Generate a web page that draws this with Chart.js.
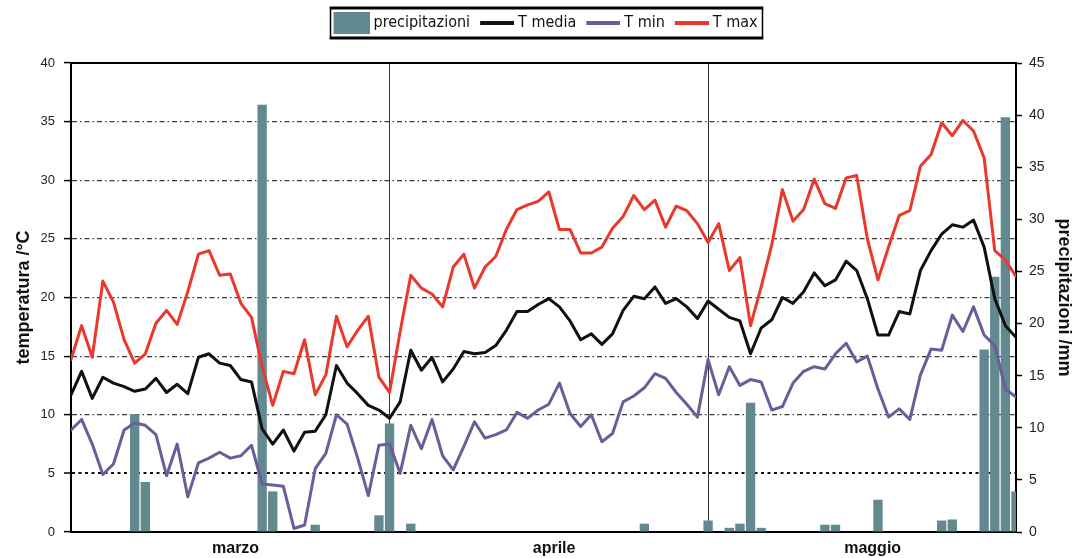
<!DOCTYPE html>
<html>
<head>
<meta charset="utf-8">
<script src="https://cdn.jsdelivr.net/npm/chart.js@4.4.1/dist/chart.umd.min.js"></script>
<style>
  html, body { margin: 0; padding: 0; background: #fff; }
  #wrap { width: 1075px; height: 558px; }
</style>
</head>
<body>
<div id="wrap"><canvas id="c" width="1075" height="558"></canvas></div>
<script>
// Month names shown under the x axis and the day index where each month begins
const months = ['marzo', 'aprile', 'maggio'];
const monthStart = [0, 30, 60, 90];

// Daily maximum temperature (°C)
const tMax = [
  14.7, 17.6, 14.9, 21.4, 19.6, 16.4, 14.4, 15.2, 17.8, 18.9,
  17.7, 20.5, 23.7, 24.0, 21.9, 22.0, 19.5, 18.3, 14.1, 10.8,
  13.7, 13.5, 16.4, 11.7, 13.4, 18.4, 15.8, 17.2, 18.4, 13.2,
  11.9, 17.1, 21.9, 20.8, 20.3, 19.2, 22.6, 23.7, 20.8, 22.6,
  23.5, 25.8, 27.5, 27.9, 28.2, 29.0, 25.8, 25.8, 23.8, 23.8,
  24.3, 25.9, 26.9, 28.7, 27.5, 28.3, 26.0, 27.8, 27.4, 26.3,
  24.7, 26.3, 22.3, 23.4, 17.6, 20.9, 24.5, 29.2, 26.5, 27.5,
  30.1, 28.0, 27.6, 30.2, 30.4, 25.0, 21.5, 24.3, 27.0, 27.4,
  31.2, 32.2, 34.9, 33.8, 35.1, 34.2, 31.9, 24.0, 23.2, 21.8
];

// Daily mean temperature (°C)
const tMedia = [
  11.7, 13.7, 11.4, 13.2, 12.7, 12.4, 12.0, 12.2, 13.1, 11.9,
  12.6, 11.8, 14.9, 15.2, 14.4, 14.2, 13.0, 12.8, 8.8, 7.5,
  8.7, 6.9, 8.5, 8.6, 10.0, 14.2, 12.7, 11.8, 10.8, 10.4,
  9.7, 11.1, 15.5, 13.8, 14.9, 12.8, 13.9, 15.4, 15.2, 15.3,
  15.9, 17.2, 18.8, 18.8, 19.4, 19.9, 19.2, 18.0, 16.4, 16.9,
  16.0, 16.9, 18.9, 20.1, 19.9, 20.9, 19.5, 19.9, 19.2, 18.2,
  19.7, 19.0, 18.3, 18.0, 15.2, 17.4, 18.1, 20.0, 19.5, 20.5,
  22.1, 21.0, 21.5, 23.1, 22.3, 19.9, 16.8, 16.8, 18.8, 18.6,
  22.3, 24.0, 25.4, 26.2, 26.0, 26.6, 24.3, 19.9, 17.6, 16.6
];

// Daily minimum temperature (°C)
const tMin = [
  8.7, 9.6, 7.5, 4.9, 5.8, 8.7, 9.3, 9.1, 8.3, 4.8,
  7.5, 3.0, 5.9, 6.3, 6.8, 6.3, 6.5, 7.4, 4.1, 4.0,
  3.9, 0.3, 0.6, 5.4, 6.7, 10.0, 9.2, 6.3, 3.1, 7.4,
  7.5, 5.0, 9.1, 7.1, 9.6, 6.5, 5.3, 7.3, 9.4, 8.0,
  8.3, 8.7, 10.2, 9.7, 10.4, 10.9, 12.7, 10.1, 9.0, 10.0,
  7.7, 8.4, 11.1, 11.6, 12.3, 13.5, 13.1, 11.9, 10.9, 9.8,
  14.7, 11.7, 14.1, 12.5, 13.0, 12.8, 10.4, 10.7, 12.7, 13.7,
  14.1, 13.9, 15.2, 16.1, 14.5, 15.0, 12.2, 9.8, 10.5, 9.6,
  13.4, 15.6, 15.5, 18.5, 17.1, 19.2, 16.8, 15.9, 12.2, 11.5
];

// Daily precipitation (mm)
const precip = [
  0, 0, 0, 0, 0, 0, 11.3, 4.8, 0, 0,
  0, 0, 0, 0, 0, 0, 0, 0, 41.0, 3.9,
  0, 0, 0, 0.7, 0, 0, 0, 0, 0, 1.6,
  10.4, 0, 0.8, 0, 0, 0, 0, 0, 0, 0,
  0, 0, 0, 0, 0, 0, 0, 0, 0, 0,
  0, 0, 0, 0, 0.8, 0, 0, 0, 0, 0,
  1.1, 0, 0.4, 0.8, 12.4, 0.4, 0, 0, 0, 0,
  0, 0.7, 0.7, 0, 0, 0, 3.1, 0, 0, 0,
  0, 0, 1.1, 1.2, 0, 0, 17.5, 24.5, 39.8, 3.9
];

// Axis ranges (left: temperature, right: precipitation)
const tempRange = [0, 40];
const rainRange = [0, 45];
const tickStep = 5;

const FONT = "'Liberation Sans', Arial, Helvetica, sans-serif";
const NARROW = "'Liberation Sans Narrow', 'Arial Narrow', 'DejaVu Sans Condensed', 'Liberation Sans', sans-serif";
const COLORS = { rain: '#62898f', media: '#111111', min: '#6a5e98', max: '#e8392c' };

const lastDay = tMax.length - 1;
const toXY = arr => arr.map((v, i) => ({ x: i, y: v }));
const monthMids = months.map((m, k) => (monthStart[k] + monthStart[k + 1]) / 2 + 0.5);
const monthBounds = monthStart.slice(1, -1);

// Legend swatches: a block for the bars, a short stroke for the lines
function swatch(color, kind) {
  const c = document.createElement('canvas');
  c.width = 44; c.height = 24;
  const g = c.getContext('2d');
  g.fillStyle = color;
  if (kind === 'bar') g.fillRect(8, 1, 36, 22);
  else g.fillRect(10, 10, 34, 4);
  return c;
}

// Frame drawn around the legend entries
const legendFrame = {
  id: 'legendFrame',
  afterDraw(chart) {
    const lg = chart.legend;
    if (!lg || !lg.legendHitBoxes || !lg.legendHitBoxes.length) return;
    const hb = lg.legendHitBoxes;
    const first = hb[0], last = hb[hb.length - 1];
    const cy = first.top + first.height / 2;
    const l = first.left + 1, r = last.left + last.width + 5;
    const t = cy - 15, b = cy + 15;
    const ctx = chart.ctx;
    ctx.save();
    ctx.strokeStyle = '#000';
    ctx.lineWidth = 1.5;
    ctx.strokeRect(l, t, r - l, b - t);
    ctx.lineWidth = 3;
    ctx.beginPath();
    ctx.moveTo(l - 0.75, t); ctx.lineTo(r + 0.75, t);
    ctx.moveTo(l - 0.75, b); ctx.lineTo(r + 0.75, b);
    ctx.stroke();
    ctx.restore();
  }
};

const lineDs = (label, data, color, order) => ({
  type: 'line', label, data: toXY(data), borderColor: color, backgroundColor: color,
  borderWidth: 3, pointRadius: 0, pointHoverRadius: 0, tension: 0,
  borderJoinStyle: 'round', borderCapStyle: 'round',
  xAxisID: 'x', yAxisID: 'y', order, swatchKind: 'line'
});

const chart = new Chart(document.getElementById('c'), {
  data: {
    datasets: [
      {
        type: 'bar', label: 'precipitazioni', data: toXY(precip),
        backgroundColor: COLORS.rain, borderWidth: 0,
        barPercentage: 0.88, categoryPercentage: 1.0,
        xAxisID: 'x', yAxisID: 'y2', order: 10, clip: 0, swatchKind: 'bar'
      },
      lineDs('T media', tMedia, COLORS.media, 2),
      lineDs('T min', tMin, COLORS.min, 3),
      lineDs('T max', tMax, COLORS.max, 1)
    ]
  },
  options: {
    responsive: false,
    devicePixelRatio: 1,
    animation: false,
    layout: { padding: { top: 11, left: 0, right: 0, bottom: 0 } },
    plugins: {
      tooltip: { enabled: false },
      legend: {
        display: true,
        position: 'top',
        fullSize: false,
        labels: {
          usePointStyle: true,
          pointStyleWidth: 36,
          boxHeight: 16,
          padding: 4,
          color: '#111',
          font: { family: NARROW, size: 16 },
          generateLabels: (ch) => ch.data.datasets.map((ds, i) => ({
            text: ds.label,
            datasetIndex: i,
            fillStyle: ds.backgroundColor,
            strokeStyle: ds.backgroundColor,
            lineWidth: 0,
            hidden: false,
            fontColor: '#111',
            pointStyle: swatch(ds.backgroundColor, ds.swatchKind)
          }))
        }
      }
    },
    scales: {
      x: {
        type: 'linear', position: 'bottom', min: 0, max: lastDay, offset: false,
        afterBuildTicks: (s) => {
          s.ticks = monthMids.concat(monthBounds).sort((a, b) => a - b).map(v => ({ value: v }));
        },
        afterFit: (s) => { s.height = 26; },
        ticks: {
          autoSkip: false, maxRotation: 0, padding: 7, color: '#111',
          font: { family: FONT, size: 16, weight: 'bold' },
          callback: (v) => {
            const k = monthMids.indexOf(v);
            return k >= 0 ? months[k] : '';
          }
        },
        grid: {
          offset: false,
          drawTicks: false,
          lineWidth: 1,
          color: (c) => (c.tick && monthBounds.includes(c.tick.value)) ? '#333' : 'rgba(0,0,0,0)'
        },
        border: { display: true, color: '#000', width: 2 }
      },
      xTop: {
        type: 'linear', position: 'top', min: 0, max: lastDay,
        afterFit: (s) => {
          const lh = s.chart.legend ? s.chart.legend.height : 0;
          s.height = Math.max(0, 63 - 11 - lh);
        },
        ticks: { display: false },
        grid: { display: false, drawTicks: false },
        border: { display: true, color: '#000', width: 2 }
      },
      y: {
        type: 'linear', position: 'left', min: tempRange[0], max: tempRange[1],
        afterFit: (s) => { s.width = 71; },
        ticks: { stepSize: tickStep, padding: 9, color: '#222', font: { family: FONT, size: 13 } },
        grid: {
          tickLength: 7, tickColor: '#000', tickWidth: 1.5,
          color: (c) => (c.tick && (c.tick.value === tempRange[0] || c.tick.value === tempRange[1])) ? 'rgba(0,0,0,0)' : (c.tick && c.tick.value === 5 ? '#111' : '#3a3a3a'),
          lineWidth: (c) => (c.tick && c.tick.value === 5) ? 2 : 1.2
        },
        border: {
          display: true, color: '#000', width: 2,
          dash: (c) => (c.tick && c.tick.value === 5) ? [3, 3.5] : [5, 3, 1.5, 3]
        },
        title: {
          display: true, text: 'temperatura /°C', color: '#111',
          font: { family: FONT, size: 18, weight: 'bold', lineHeight: 1.2 },
          padding: { top: 13, bottom: 0 }
        }
      },
      y2: {
        type: 'linear', position: 'right', min: rainRange[0], max: rainRange[1],
        afterFit: (s) => { s.width = 59; },
        ticks: { stepSize: tickStep, padding: 7, color: '#222', font: { family: FONT, size: 14 } },
        grid: { drawOnChartArea: false, tickLength: 6, tickColor: '#000', tickWidth: 1.5 },
        border: { display: true, color: '#000', width: 2 },
        title: {
          display: true, text: 'precipitazioni /mm', color: '#111',
          font: { family: FONT, size: 18, weight: 'bold', lineHeight: 1.2 },
          padding: { top: 0, bottom: 0 }
        }
      }
    }
  },
  plugins: [legendFrame]
});
</script>
</body>
</html>
